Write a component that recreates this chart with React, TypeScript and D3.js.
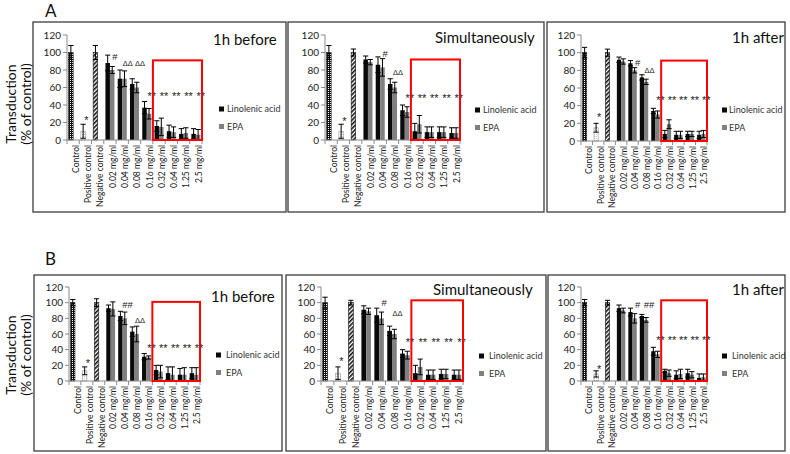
import React from "react";
import * as d3 from "d3";

// ---------- data ----------
const CATEGORIES = [
  "Control",
  "Positive control",
  "Negative control",
  "0.02 mg/ml",
  "0.04 mg/ml",
  "0.08 mg/ml",
  "0.16 mg/ml",
  "0.32 mg/ml",
  "0.64 mg/ml",
  "1.25 mg/ml",
  "2.5 mg/ml",
];
const CONTROL_CATEGORIES = CATEGORIES.slice(0, 3);
const DOSE_CATEGORIES = CATEGORIES.slice(3);
const Y_TICKS = [0, 20, 40, 60, 80, 100, 120];
const SERIES = ["Linolenic acid", "EPA"];
const PANEL_TITLES = ["1h before", "Simultaneously", "1h after", "1h before", "Simultaneously", "1h after"];
const ROW_LABELS = ["A", "B"];
const Y_LABEL = ["Transduction", "(% of control)"];
const BOXED_FROM = "0.32 mg/ml";

// A – 1h before
const A_BEFORE_CTRL = [100, 10, 100];
const A_BEFORE_CTRL_ERR = [8, 8, 8];
const A_BEFORE_LA = [88, 70, 64, 37, 16, 10, 7, 7];
const A_BEFORE_LA_ERR = [9, 10, 6, 7, 6, 7, 6, 6];
const A_BEFORE_EPA = [80, 70, 60, 30, 15, 9, 8, 6];
const A_BEFORE_EPA_ERR = [4, 9, 6, 6, 10, 6, 6, 6];
const A_BEFORE_MARKS: [string, string, number][] = [
  ["Positive control", "*", 26], ["0.02 mg/ml", "#", 95], ["0.04 mg/ml", "ΔΔ", 88], ["0.08 mg/ml", "ΔΔ", 88],
  ["0.16 mg/ml", "**", 54], ["0.32 mg/ml", "**", 54], ["0.64 mg/ml", "**", 54], ["1.25 mg/ml", "**", 54], ["2.5 mg/ml", "**", 54],
];

// A – simultaneously
const A_SIMUL_CTRL = [100, 10, 100];
const A_SIMUL_CTRL_ERR = [8, 8, 4];
const A_SIMUL_LA = [92, 86, 64, 34, 10, 9, 9, 8];
const A_SIMUL_LA_ERR = [4, 9, 6, 6, 9, 6, 6, 6];
const A_SIMUL_EPA = [89, 83, 60, 32, 18, 9, 9, 8];
const A_SIMUL_EPA_ERR = [3, 10, 6, 6, 10, 6, 6, 6];
const A_SIMUL_MARKS: [string, string, number][] = [
  ["Positive control", "*", 25], ["0.04 mg/ml", "#", 99], ["0.08 mg/ml", "ΔΔ", 77],
  ["0.16 mg/ml", "**", 51], ["0.32 mg/ml", "**", 51], ["0.64 mg/ml", "**", 51], ["1.25 mg/ml", "**", 51], ["2.5 mg/ml", "**", 51],
];

// A – 1h after
const A_AFTER_CTRL = [100, 15, 100];
const A_AFTER_CTRL_ERR = [6, 5, 4];
const A_AFTER_LA = [92, 88, 72, 34, 8, 7, 8, 7];
const A_AFTER_LA_ERR = [3, 3, 3, 3, 4, 4, 3, 4];
const A_AFTER_EPA = [90, 80, 67, 30, 19, 7, 8, 8];
const A_AFTER_EPA_ERR = [3, 3, 3, 4, 5, 4, 3, 4];
const A_AFTER_MARKS: [string, string, number][] = [
  ["Positive control", "*", 30], ["0.04 mg/ml", "#", 89], ["0.08 mg/ml", "ΔΔ", 80],
  ["0.16 mg/ml", "**", 50], ["0.32 mg/ml", "**", 50], ["0.64 mg/ml", "**", 50], ["1.25 mg/ml", "**", 50], ["2.5 mg/ml", "**", 50],
];

// B – 1h before
const B_BEFORE_CTRL = [100, 13, 100];
const B_BEFORE_CTRL_ERR = [4, 5, 5];
const B_BEFORE_LA = [93, 83, 63, 31, 14, 10, 8, 10];
const B_BEFORE_LA_ERR = [4, 6, 6, 4, 6, 8, 8, 7];
const B_BEFORE_EPA = [92, 80, 60, 30, 12, 8, 8, 8];
const B_BEFORE_EPA_ERR = [9, 8, 10, 2, 8, 10, 9, 9];
const B_BEFORE_MARKS: [string, string, number][] = [
  ["Positive control", "*", 27], ["0.04 mg/ml", "##", 97], ["0.08 mg/ml", "ΔΔ", 78],
  ["0.16 mg/ml", "**", 46], ["0.32 mg/ml", "**", 46], ["0.64 mg/ml", "**", 46], ["1.25 mg/ml", "**", 46], ["2.5 mg/ml", "**", 46],
];

// B – simultaneously
const B_SIMUL_CTRL = [100, 10, 100];
const B_SIMUL_CTRL_ERR = [7, 8, 3];
const B_SIMUL_LA = [91, 84, 64, 35, 10, 8, 9, 8];
const B_SIMUL_LA_ERR = [5, 9, 6, 5, 10, 6, 6, 6];
const B_SIMUL_EPA = [89, 80, 60, 33, 18, 8, 9, 8];
const B_SIMUL_EPA_ERR = [4, 8, 6, 5, 10, 6, 6, 6];
const B_SIMUL_MARKS: [string, string, number][] = [
  ["Positive control", "*", 29], ["0.04 mg/ml", "#", 100], ["0.08 mg/ml", "ΔΔ", 86],
  ["0.16 mg/ml", "**", 54], ["0.32 mg/ml", "**", 54], ["0.64 mg/ml", "**", 54], ["1.25 mg/ml", "**", 54], ["2.5 mg/ml", "**", 54],
];

// B – 1h after
const B_AFTER_CTRL = [100, 9, 100];
const B_AFTER_CTRL_ERR = [4, 4, 3];
const B_AFTER_LA = [93, 88, 83, 38, 13, 8, 10, 4];
const B_AFTER_LA_ERR = [4, 5, 2, 5, 2, 5, 5, 5];
const B_AFTER_EPA = [90, 80, 78, 34, 10, 9, 8, 5];
const B_AFTER_EPA_ERR = [3, 6, 3, 4, 4, 6, 4, 4];
const B_AFTER_MARKS: [string, string, number][] = [
  ["Positive control", "*", 19], ["0.04 mg/ml", "#", 98], ["0.08 mg/ml", "##", 98],
  ["0.16 mg/ml", "**", 56], ["0.32 mg/ml", "**", 56], ["0.64 mg/ml", "**", 56], ["1.25 mg/ml", "**", 56], ["2.5 mg/ml", "**", 56],
];

const RED_BOX_TOP = [91, 92, 91, 101, 103, 103];

const PANELS = [
  { ctrl: A_BEFORE_CTRL, ctrlErr: A_BEFORE_CTRL_ERR, la: A_BEFORE_LA, laErr: A_BEFORE_LA_ERR, epa: A_BEFORE_EPA, epaErr: A_BEFORE_EPA_ERR, marks: A_BEFORE_MARKS },
  { ctrl: A_SIMUL_CTRL, ctrlErr: A_SIMUL_CTRL_ERR, la: A_SIMUL_LA, laErr: A_SIMUL_LA_ERR, epa: A_SIMUL_EPA, epaErr: A_SIMUL_EPA_ERR, marks: A_SIMUL_MARKS },
  { ctrl: A_AFTER_CTRL, ctrlErr: A_AFTER_CTRL_ERR, la: A_AFTER_LA, laErr: A_AFTER_LA_ERR, epa: A_AFTER_EPA, epaErr: A_AFTER_EPA_ERR, marks: A_AFTER_MARKS },
  { ctrl: B_BEFORE_CTRL, ctrlErr: B_BEFORE_CTRL_ERR, la: B_BEFORE_LA, laErr: B_BEFORE_LA_ERR, epa: B_BEFORE_EPA, epaErr: B_BEFORE_EPA_ERR, marks: B_BEFORE_MARKS },
  { ctrl: B_SIMUL_CTRL, ctrlErr: B_SIMUL_CTRL_ERR, la: B_SIMUL_LA, laErr: B_SIMUL_LA_ERR, epa: B_SIMUL_EPA, epaErr: B_SIMUL_EPA_ERR, marks: B_SIMUL_MARKS },
  { ctrl: B_AFTER_CTRL, ctrlErr: B_AFTER_CTRL_ERR, la: B_AFTER_LA, laErr: B_AFTER_LA_ERR, epa: B_AFTER_EPA, epaErr: B_AFTER_EPA_ERR, marks: B_AFTER_MARKS },
];

// ---------- layout ----------
type Layout = {
  box: [number, number, number, number];
  x0: number; x1: number; yTop: number; yBot: number;
  titleX: number; titleY: number;
  legX: number; legTextX: number; legY: number;
};

const LAYOUTS: Layout[] = [
  { box: [33, 22, 286, 212], x0: 67, x1: 202, yTop: 35, yBot: 140, titleX: 213, titleY: 45, legX: 219, legTextX: 227, legY: 109 },
  { box: [288, 22, 544, 212], x0: 325, x1: 460, yTop: 35, yBot: 140, titleX: 435, titleY: 43, legX: 475, legTextX: 483, legY: 110 },
  { box: [547, 22, 785, 212], x0: 581, x1: 707, yTop: 35, yBot: 141, titleX: 732, titleY: 43, legX: 722, legTextX: 729, legY: 110 },
  { box: [34, 275, 282, 451], x0: 69, x1: 200, yTop: 287, yBot: 381, titleX: 211, titleY: 302, legX: 216, legTextX: 226, legY: 355 },
  { box: [286, 275, 546, 451], x0: 321, x1: 463, yTop: 287, yBot: 381, titleX: 433, titleY: 295, legX: 479, legTextX: 489, legY: 356 },
  { box: [548, 275, 785, 451], x0: 581, x1: 707, yTop: 287, yBot: 381, titleX: 732, titleY: 295, legX: 722, legTextX: 732, legY: 356 },
];

const FONT = "Lato, 'Open Sans', sans-serif";
const MARK_FONT = "'Liberation Sans', 'DejaVu Sans', sans-serif";
const AXIS_COLOR = "#8a8a8a";
const LA_COLOR = "#0a0a0a";
const EPA_COLOR = "#808080";
const CONTROL_FILLS = ["url(#patCtrl)", "url(#patPos)", "url(#patNeg)"];
const CONTROL_STROKES = ["#111", "#999", "#111"];

function markStyle(label: string) {
  if (label.startsWith("*")) return { size: 11, dy: "0.62em", dx: label === "*" ? 1 : 5 };
  if (label.startsWith("Δ")) return { size: 7.5, dy: "0.35em", dx: 5.5 };
  return { size: 9.5, dy: "0.35em", dx: 5 };
}

function Panel({ idx }: { idx: number }) {
  const p = PANELS[idx];
  const lay = LAYOUTS[idx];
  const x = d3.scaleBand<string>().domain(CATEGORIES).range([lay.x0, lay.x1]).paddingInner(0).paddingOuter(0);
  const bw = x.bandwidth();
  const inner = d3.scaleBand<string>().domain(SERIES).range([0, bw]).paddingInner(0).paddingOuter(0.36);
  const ibw = inner.bandwidth();
  const y = d3.scaleLinear().domain([0, 120]).range([lay.yBot, lay.yTop]);
  const cx = (c: string) => (x(c) as number) + bw / 2;

  type Bar = { cat: string; slot: string; v: number; e: number; fill: string; stroke: string };
  const bars: Bar[] = [];
  CONTROL_CATEGORIES.forEach((c, i) =>
    bars.push({ cat: c, slot: SERIES[0], v: p.ctrl[i], e: p.ctrlErr[i], fill: CONTROL_FILLS[i], stroke: CONTROL_STROKES[i] })
  );
  DOSE_CATEGORIES.forEach((c, i) => {
    bars.push({ cat: c, slot: SERIES[0], v: p.la[i], e: p.laErr[i], fill: LA_COLOR, stroke: "none" });
    bars.push({ cat: c, slot: SERIES[1], v: p.epa[i], e: p.epaErr[i], fill: EPA_COLOR, stroke: "none" });
  });

  const boundaries = d3.range(CATEGORIES.length + 1).map((i) => lay.x0 + i * bw);
  const [bx0, by0, bx1, by1] = lay.box;
  const redX = x(BOXED_FROM) as number;

  return (
    <g>
      <rect x={bx0} y={by0} width={bx1 - bx0} height={by1 - by0} fill="none" stroke="#3c3c3c" strokeWidth={1.3} />
      {/* y axis */}
      <line x1={lay.x0} x2={lay.x0} y1={y(0)} y2={y(120)} stroke={AXIS_COLOR} />
      {Y_TICKS.map((t) => (
        <g key={t}>
          <line x1={lay.x0 - 4} x2={lay.x0} y1={y(t)} y2={y(t)} stroke={AXIS_COLOR} />
          <text x={lay.x0 - 6} y={y(t)} dy="0.35em" textAnchor="end" fontSize={10} fill="#222" fontFamily={FONT}>
            {t}
          </text>
        </g>
      ))}
      {/* bars */}
      {bars.map((b, i) => {
        const bx = (x(b.cat) as number) + (inner(b.slot) as number);
        return (
          <rect key={i} x={bx} y={y(b.v)} width={ibw} height={y(0) - y(b.v)} fill={b.fill} stroke={b.stroke} strokeWidth={0.6} />
        );
      })}
      {/* error bars */}
      {bars.map((b, i) => {
        const mx = (x(b.cat) as number) + (inner(b.slot) as number) + ibw / 2;
        const lo = y(Math.max(0, b.v - b.e));
        const hi = y(b.v + b.e);
        return (
          <g key={i} stroke="#000" strokeWidth={1}>
            <line x1={mx} x2={mx} y1={lo} y2={hi} />
            <line x1={mx - 2.6} x2={mx + 2.6} y1={hi} y2={hi} />
            <line x1={mx - 2.6} x2={mx + 2.6} y1={lo} y2={lo} />
          </g>
        );
      })}
      {/* x axis */}
      <line x1={lay.x0} x2={lay.x1} y1={y(0)} y2={y(0)} stroke={AXIS_COLOR} />
      {boundaries.map((bx, i) => (
        <line key={i} x1={bx} x2={bx} y1={y(0)} y2={y(0) + 4} stroke={AXIS_COLOR} />
      ))}
      {CATEGORIES.map((c) => (
        <text
          key={c}
          transform={`translate(${cx(c) + 3},${y(0) + 5}) rotate(-90)`}
          dy="0.32em"
          textAnchor="end"
          fontSize={8.5}
          fill="#222"
          fontFamily={FONT}
        >
          {c}
        </text>
      ))}
      {/* significance marks */}
      {p.marks.map(([c, label, v], i) => {
        const st = markStyle(label);
        return (
          <text
            key={i}
            x={cx(c) + st.dx}
            y={y(v)}
            dy={st.dy}
            textAnchor="middle"
            fontSize={st.size}
            fill="#222"
            fontFamily={MARK_FONT}
          >
            {label}
          </text>
        );
      })}
      {/* red box */}
      <rect x={redX} y={y(RED_BOX_TOP[idx])} width={lay.x1 - redX} height={y(0) - y(RED_BOX_TOP[idx])} fill="none" stroke="#ff0000" strokeWidth={2} />
      {/* title */}
      <text x={lay.titleX} y={lay.titleY} fontSize={15} fill="#111" fontFamily={FONT}>
        {PANEL_TITLES[idx]}
      </text>
      {/* legend */}
      {SERIES.map((s, i) => (
        <g key={s}>
          <rect x={lay.legX} y={lay.legY + i * 17.5 - 2.5} width={5} height={5} fill={i === 0 ? LA_COLOR : EPA_COLOR} />
          <text x={lay.legTextX} y={lay.legY + i * 17.5} dy="0.35em" fontSize={9} fill="#333" fontFamily={FONT}>
            {s}
          </text>
        </g>
      ))}
    </g>
  );
}

export default function App() {
  const rowLabelY = [17, 265];
  const yLabelCenter = [104, 355];
  return (
    <svg width={790} height={454} style={{ position: "absolute", left: 0, top: 0, background: "#fff" }}>
      <defs>
        <pattern id="patCtrl" patternUnits="userSpaceOnUse" width={2} height={2}>
          <rect width={2} height={2} fill="#111" />
          <rect width={1} height={1} fill="#fff" />
        </pattern>
        <pattern id="patPos" patternUnits="userSpaceOnUse" width={2} height={2}>
          <rect width={2} height={2} fill="#fff" />
          <rect width={1} height={1} fill="#c8c8c8" />
        </pattern>
        <pattern id="patNeg" patternUnits="userSpaceOnUse" width={3} height={3} patternTransform="rotate(45)">
          <rect width={3} height={3} fill="#fff" />
          <rect width={1.6} height={3} fill="#111" />
        </pattern>
      </defs>
      {ROW_LABELS.map((l, r) => (
        <g key={l}>
          <text x={45} y={rowLabelY[r]} fontSize={17} fill="#111" fontFamily={FONT}>
            {l}
          </text>
          <text transform={`translate(16,${yLabelCenter[r]}) rotate(-90)`} textAnchor="middle" fontSize={14} fill="#111" fontFamily={FONT}>
            {Y_LABEL[0]}
          </text>
          <text transform={`translate(31,${yLabelCenter[r]}) rotate(-90)`} textAnchor="middle" fontSize={14} fill="#111" fontFamily={FONT}>
            {Y_LABEL[1]}
          </text>
        </g>
      ))}
      {PANELS.map((_, i) => (
        <Panel key={i} idx={i} />
      ))}
    </svg>
  );
}
